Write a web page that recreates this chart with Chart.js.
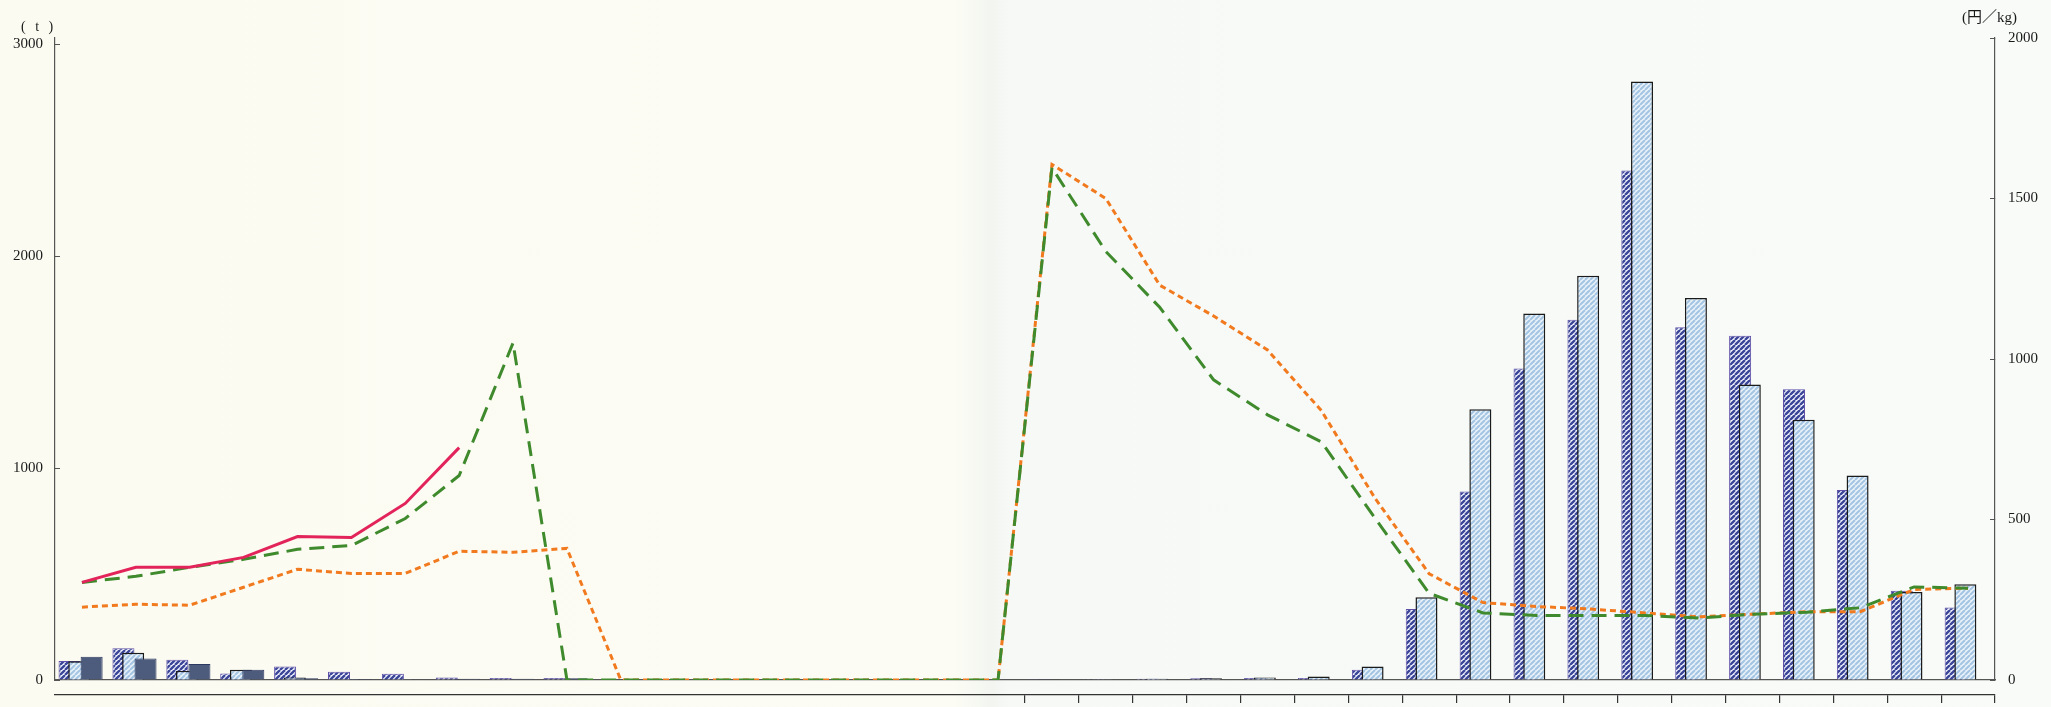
<!DOCTYPE html>
<html>
<head>
<meta charset="utf-8">
<script src="https://cdn.jsdelivr.net/npm/chart.js@4.4.1/dist/chart.umd.min.js"></script>
<style>
  html, body { margin: 0; padding: 0; }
  body {
    width: 2051px; height: 707px; overflow: hidden;
    background: linear-gradient(to right, #fbfbf2 0%, #fcfcf4 46.5%, #f2f5f0 48.4%, #f6f9f6 49.2%, #f8fbf8 100%);
  }
  #wrap { position: relative; width: 2051px; height: 707px; }
  .unit { position: absolute; font-family: "Liberation Serif", "Noto Sans CJK JP", serif; color: #1a1a1a; white-space: nowrap; }
</style>
</head>
<body>
<div id="wrap">
  <canvas id="chart" width="2051" height="707"></canvas>
  <div class="unit" style="left:21px; top:19px; font-size:14px; letter-spacing:3px;">( t )</div>
  <div class="unit" style="left:1962px; top:5px; font-size:15px;">(円／kg)</div>
</div>
<script>
// 36 months, no labels are printed under the plot
const categories = [
  "1月", "2月", "3月", "4月", "5月", "6月", "7月", "8月", "9月", "10月", "11月", "12月",
  "1月", "2月", "3月", "4月", "5月", "6月", "7月", "8月", "9月", "10月", "11月", "12月",
  "1月", "2月", "3月", "4月", "5月", "6月", "7月", "8月", "9月", "10月", "11月", "12月"
];
const leftTicks = [0, 1000, 2000, 3000];
const rightTicks = [0, 500, 1000, 1500, 2000];

// volumes (t), left axis
const volumeA = [90, 150, 95, 31, 64, 39, 30, 12, 10, 10, null, null, null, null, null, null, null, null,
  3, 4, 6, 8, 9, 9, 48, 335, 890, 1470, 1700, 2405, 1665, 1625, 1372, 897, 421, 342];
const volumeB = [88, 129, 44, 48, 12, 5, 4, 3, null, null, null, null, null, null, null, null, null, null,
  3, 4, 6, 8, 12, 17, 64, 390, 1278, 1730, 1908, 2825, 1803, 1395, 1228, 965, 415, 452];
const volumeC = [110, 101, 75, 48, 8, 5, 4, 6, 6, 8, null, null, null, null, null, null, null, null,
  null, null, null, null, null, null, null, null, null, null, null, null, null, null, null, null, null, null];

// prices (円/kg), right axis
const priceRed = [304, 351, 351, 382, 447, 444, 550, 724, null, null, null, null, null, null, null, null, null, null,
  null, null, null, null, null, null, null, null, null, null, null, null, null, null, null, null, null, null];
const priceGreen = [304, 323, 351, 376, 407, 419, 503, 637, 1050, 0, 0, 0, 0, 0, 0, 0, 0, 0,
  1596, 1335, 1161, 935, 826, 742, 503, 270, 209, 201, 201, 201, 193, 205, 211, 225, 290, 286];
const priceOrange = [227, 236, 233, 289, 345, 332, 332, 401, 398, 410, 0, 0, 0, 0, 0, 0, 0, 0,
  1606, 1500, 1230, 1134, 1028, 839, 565, 331, 241, 229, 221, 209, 197, 205, 213, 213, 282, 286];

function stripes(bg, fg, period, width) {
  const c = document.createElement("canvas");
  c.width = period;
  c.height = period;
  const g = c.getContext("2d");
  g.fillStyle = bg;
  g.fillRect(0, 0, period, period);
  g.strokeStyle = fg;
  g.lineWidth = width;
  g.beginPath();
  for (let k = -1; k <= 1; k++) {
    g.moveTo(k * period, period);
    g.lineTo(k * period + period, 0);
  }
  g.stroke();
  return g.createPattern(c, "repeat");
}

// bars overlap inside a month: A behind, B, then C in front
const toPoints = (values, shift) => values.map((v, i) => ({ x: i + shift, y: v }));
const boundaries = categories.map((_, i) => i - 0.5).concat([categories.length - 0.5]);

const barCommon = {
  type: "bar",
  yAxisID: "y",
  xAxisID: "x",
  grouped: false,
  barPercentage: 10,
  categoryPercentage: 1,
  maxBarThickness: 22,
  borderSkipped: "bottom"
};
const lineCommon = {
  type: "line",
  yAxisID: "y2",
  xAxisID: "x",
  borderWidth: 3,
  pointRadius: 0,
  tension: 0,
  fill: false
};

const tickFont = { family: "'Liberation Serif', serif", size: 15 };
const plain = v => String(v);

new Chart(document.getElementById("chart"), {
  data: {
    labels: categories,
    datasets: [
      { ...lineCommon, label: "価格1", data: toPoints(priceRed, 0), borderColor: "#e2245b", order: 0 },
      { ...lineCommon, label: "価格2", data: toPoints(priceGreen, 0), borderColor: "#3f8a2c", borderDash: [15, 8], order: 1 },
      { ...lineCommon, label: "価格3", data: toPoints(priceOrange, 0), borderColor: "#f27a1e", borderDash: [6, 4], order: 2 },
      { ...barCommon, label: "数量C", data: toPoints(volumeC, 0.18), backgroundColor: "#4d5b7d", borderColor: "#2d3960", borderWidth: 1, order: 3 },
      { ...barCommon, label: "数量B", data: toPoints(volumeB, -0.05), backgroundColor: stripes("#e9f2f9", "#a3c4e2", 5, 2), borderColor: "#1b1b1b", borderWidth: 1.5, order: 4 },
      { ...barCommon, label: "数量A", data: toPoints(volumeA, -0.23), backgroundColor: stripes("#f4f6ff", "#3b4699", 5, 2.4), borderColor: "#6150a8", borderWidth: 1, order: 5 }
    ]
  },
  options: {
    responsive: false,
    animation: false,
    devicePixelRatio: 1,
    layout: { padding: { top: 38, left: 0, right: 0, bottom: 0 } },
    plugins: { legend: { display: false }, tooltip: { enabled: false } },
    scales: {
      x: {
        type: "linear",
        position: "bottom",
        offset: false,
        min: -0.5,
        max: 35.5,
        ticks: { display: false },
        grid: { display: false, offset: false },
        border: { display: true, color: "#555", width: 1.2 },
        afterFit: s => { s.height = 15; }
      },
      x2: {
        type: "linear",
        position: "bottom",
        offset: false,
        min: -0.5,
        max: 35.5,
        afterBuildTicks: s => { s.ticks = boundaries.map(v => ({ value: v })); },
        ticks: { display: false },
        grid: {
          offset: false,
          drawOnChartArea: false,
          drawTicks: true,
          tickLength: 8,
          lineWidth: 1.2,
          color: ctx => (ctx.tick && ctx.tick.value >= 17.5) ? "#333" : "rgba(0,0,0,0)"
        },
        border: { display: true, color: "#333", width: 1.2 },
        afterFit: s => { s.height = 8; }
      },
      y: {
        type: "linear",
        position: "left",
        min: 0,
        max: 3030,
        afterBuildTicks: s => { s.ticks = leftTicks.map(v => ({ value: v })); },
        ticks: { padding: 17, font: tickFont, color: "#1a1a1a", callback: plain },
        grid: { drawOnChartArea: false, tickLength: -5, color: "#555" },
        border: { color: "#555", width: 1.2 },
        afterFit: s => { s.width = 55; }
      },
      y2: {
        type: "linear",
        position: "right",
        min: 0,
        max: 2000,
        afterBuildTicks: s => { s.ticks = rightTicks.map(v => ({ value: v })); },
        ticks: { padding: 18, font: tickFont, color: "#1a1a1a", callback: plain },
        grid: { drawOnChartArea: false, tickLength: -5, color: "#555" },
        border: { color: "#555", width: 1.2 },
        afterFit: s => { s.width = 56; }
      }
    }
  }
});
</script>
</body>
</html>
